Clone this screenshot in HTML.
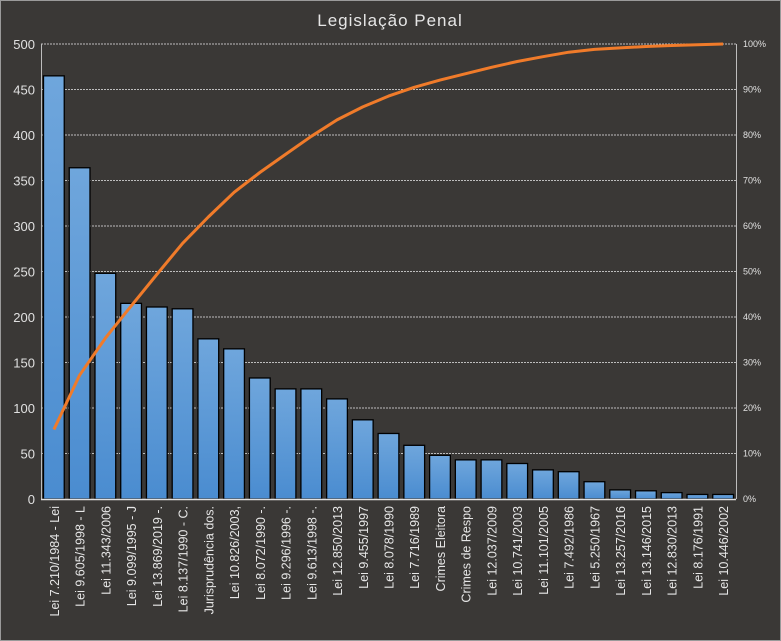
<!DOCTYPE html>
<html><head><meta charset="utf-8"><style>
html,body{margin:0;padding:0;background:#3a3836;}
svg{display:block;font-family:"Liberation Sans","DejaVu Sans",sans-serif;}
</style></head><body>
<svg id="c" width="781" height="641" xmlns="http://www.w3.org/2000/svg">
<defs><linearGradient id="g" x1="0" y1="0" x2="0" y2="1"><stop offset="0" stop-color="#6fa6dc"/><stop offset="1" stop-color="#4a8cd0"/></linearGradient></defs>
<rect x="0.5" y="0.5" width="780" height="640" fill="#3a3836" stroke="#9a9a9a"/>
<text x="390" y="26" fill="#e6e6e6" font-size="17" text-anchor="middle" letter-spacing="1">Legislação Penal</text>
</svg>
<script>
var s=document.getElementById('c'),ns='http://www.w3.org/2000/svg';
function el(t,a,txt){var e=document.createElementNS(ns,t);for(var k in a)e.setAttribute(k,a[k]);if(txt!=null)e.textContent=txt;s.appendChild(e);return e;}
var L=41,R=736,T=44,B=499,H=B-T;
var v=[465,364,248,215,211,209,176,165,133,121,121,110,87,72,59,48,43,43,39,32,30,19,10,9,7,5,5];
var n=["Lei 7.210/1984 - Lei","Lei 9.605/1998 - L","Lei 11.343/2006","Lei 9.099/1995 - J","Lei 13.869/2019 -.","Lei 8.137/1990 - C.","Jurisprudência dos.","Lei 10.826/2003,","Lei 8.072/1990 -.","Lei 9.296/1996 -.","Lei 9.613/1998 -.","Lei 12.850/2013","Lei 9.455/1997","Lei 8.078/1990","Lei 7.716/1989","Crimes Eleitora","Crimes de Respo","Lei 12.037/2009","Lei 10.741/2003","Lei 11.101/2005","Lei 7.492/1986","Lei 5.250/1967","Lei 13.257/2016","Lei 13.146/2015","Lei 12.830/2013","Lei 8.176/1991","Lei 10.446/2002"];
for(var i=0;i<=10;i++){var y=B-i*H/10;
 if(i>0)el('line',{x1:L,x2:R,y1:y,y2:y,stroke:'#bdbdbd','stroke-dasharray':'2,1','stroke-width':1});
 el('text',{x:35,y:y+5,fill:'#e0e0e0','font-size':13,'text-anchor':'end'},String(i*50));
 el('text',{x:743,y:y+3,fill:'#e0e0e0','font-size':9},(i*10)+'%');}
el('line',{x1:L+.5,x2:L+.5,y1:T,y2:B,stroke:'#bdbdbd'});
el('line',{x1:R+.5,x2:R+.5,y1:T,y2:B,stroke:'#bdbdbd'});
var w=(R-L)/27,tot=v.reduce((a,b)=>a+b,0),c=0,pts=[];
v.forEach(function(d,i){var x=L+i*w,h=d/500*H;
 el('rect',{x:x+2.5,y:B-h,width:w-5,height:h,fill:'url(#g)',stroke:'#000','stroke-width':1.3});
 c+=d;pts.push((x+w/2).toFixed(1)+','+(B-c/tot*H).toFixed(1));
 var cx=x+w/2+5;el('text',{x:cx,y:506,fill:'#e6e6e6','font-size':12.5,'text-anchor':'end',transform:'rotate(-90 '+cx+' 506)'},n[i]);});
el('line',{x1:L,x2:R,y1:B+.5,y2:B+.5,stroke:'#e0e0e0','stroke-width':1.5});
el('polyline',{points:pts.join(' '),fill:'none',stroke:'#f07b2a','stroke-width':3,'stroke-linejoin':'round'});
</script>
</body></html>
